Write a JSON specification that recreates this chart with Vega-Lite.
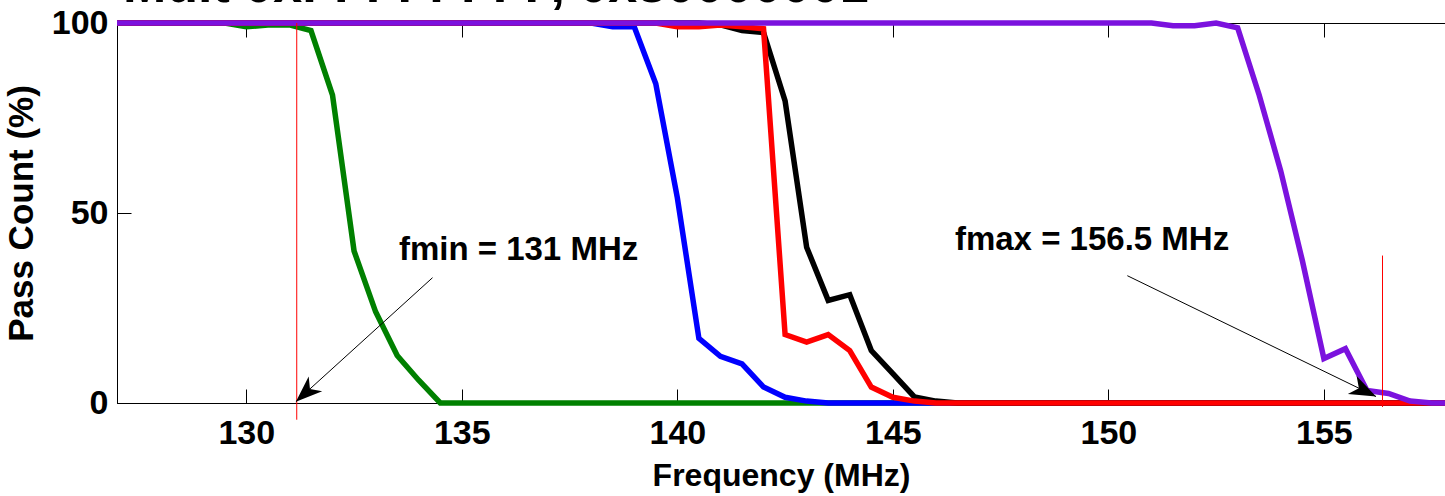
{
  "$schema": "https://vega.github.io/schema/vega-lite/v6.json",
  "autosize": {"type": "none"},
  "width": 1328,
  "height": 380,
  "padding": {"left": 117, "top": 23, "right": 0, "bottom": 93},
  "background": "white",
  "title": {
    "text": "Mult 0xFFFFFFFF, 0x80000001",
    "anchor": "start",
    "frame": "group",
    "font": "Liberation Sans",
    "fontSize": 52,
    "fontWeight": "bold",
    "color": "black",
    "baseline": "alphabetic",
    "dx": 6,
    "dy": 48,
    "offset": 0
  },
  "config": {
    "view": {"stroke": "black", "strokeWidth": 1},
    "font": "Liberation Sans",
    "axis": {
      "grid": false,
      "domainColor": "black",
      "domainWidth": 1,
      "tickColor": "black",
      "tickWidth": 1,
      "tickSize": -14,
      "labelColor": "black",
      "titleColor": "black",
      "labelFont": "Liberation Sans",
      "titleFont": "Liberation Sans",
      "labelFontWeight": "bold",
      "titleFontWeight": "bold",
      "labelFontSize": 34
    }
  },
  "datasets": {
    "curves": [
      {"series": "Series 1", "frequency": 127, "pass": 100},
      {"series": "Series 1", "frequency": 129.5, "pass": 100},
      {"series": "Series 1", "frequency": 130, "pass": 99},
      {"series": "Series 1", "frequency": 130.5, "pass": 99.5},
      {"series": "Series 1", "frequency": 131, "pass": 99.5},
      {"series": "Series 1", "frequency": 131.5, "pass": 98},
      {"series": "Series 1", "frequency": 132, "pass": 81},
      {"series": "Series 1", "frequency": 132.5, "pass": 40},
      {"series": "Series 1", "frequency": 133, "pass": 24},
      {"series": "Series 1", "frequency": 133.5, "pass": 12.5},
      {"series": "Series 1", "frequency": 134, "pass": 6},
      {"series": "Series 1", "frequency": 134.5, "pass": 0},
      {"series": "Series 1", "frequency": 158, "pass": 0},
      {"series": "Series 2", "frequency": 127, "pass": 100},
      {"series": "Series 2", "frequency": 138, "pass": 100},
      {"series": "Series 2", "frequency": 138.5, "pass": 99},
      {"series": "Series 2", "frequency": 139, "pass": 99},
      {"series": "Series 2", "frequency": 139.5, "pass": 84},
      {"series": "Series 2", "frequency": 140, "pass": 54},
      {"series": "Series 2", "frequency": 140.5, "pass": 17},
      {"series": "Series 2", "frequency": 141, "pass": 12.3},
      {"series": "Series 2", "frequency": 141.5, "pass": 10.3},
      {"series": "Series 2", "frequency": 142, "pass": 4.2},
      {"series": "Series 2", "frequency": 142.5, "pass": 1.5},
      {"series": "Series 2", "frequency": 143, "pass": 0.5},
      {"series": "Series 2", "frequency": 143.5, "pass": 0},
      {"series": "Series 2", "frequency": 158, "pass": 0},
      {"series": "Series 3", "frequency": 127, "pass": 100},
      {"series": "Series 3", "frequency": 140.5, "pass": 100},
      {"series": "Series 3", "frequency": 141, "pass": 99.5},
      {"series": "Series 3", "frequency": 141.5, "pass": 98},
      {"series": "Series 3", "frequency": 142, "pass": 97.5},
      {"series": "Series 3", "frequency": 142.5, "pass": 79.5},
      {"series": "Series 3", "frequency": 143, "pass": 41},
      {"series": "Series 3", "frequency": 143.5, "pass": 27},
      {"series": "Series 3", "frequency": 144, "pass": 28.5},
      {"series": "Series 3", "frequency": 144.5, "pass": 13.8},
      {"series": "Series 3", "frequency": 145, "pass": 7.7},
      {"series": "Series 3", "frequency": 145.5, "pass": 1.6},
      {"series": "Series 3", "frequency": 146, "pass": 0.5},
      {"series": "Series 3", "frequency": 146.5, "pass": 0},
      {"series": "Series 3", "frequency": 158, "pass": 0},
      {"series": "Series 4", "frequency": 127, "pass": 100},
      {"series": "Series 4", "frequency": 139.5, "pass": 100},
      {"series": "Series 4", "frequency": 140, "pass": 99},
      {"series": "Series 4", "frequency": 140.5, "pass": 99},
      {"series": "Series 4", "frequency": 141, "pass": 99.5},
      {"series": "Series 4", "frequency": 141.5, "pass": 99},
      {"series": "Series 4", "frequency": 142, "pass": 98.5},
      {"series": "Series 4", "frequency": 142.5, "pass": 18},
      {"series": "Series 4", "frequency": 143, "pass": 16},
      {"series": "Series 4", "frequency": 143.5, "pass": 18},
      {"series": "Series 4", "frequency": 144, "pass": 13.8},
      {"series": "Series 4", "frequency": 144.5, "pass": 4.2},
      {"series": "Series 4", "frequency": 145, "pass": 1.5},
      {"series": "Series 4", "frequency": 145.5, "pass": 0.5},
      {"series": "Series 4", "frequency": 146, "pass": 0},
      {"series": "Series 4", "frequency": 158, "pass": 0},
      {"series": "Series 5", "frequency": 127, "pass": 100},
      {"series": "Series 5", "frequency": 151, "pass": 100},
      {"series": "Series 5", "frequency": 151.5, "pass": 99.3},
      {"series": "Series 5", "frequency": 152, "pass": 99.3},
      {"series": "Series 5", "frequency": 152.5, "pass": 100},
      {"series": "Series 5", "frequency": 153, "pass": 98.7},
      {"series": "Series 5", "frequency": 153.5, "pass": 81},
      {"series": "Series 5", "frequency": 154, "pass": 61},
      {"series": "Series 5", "frequency": 154.5, "pass": 37.5},
      {"series": "Series 5", "frequency": 155, "pass": 11.7},
      {"series": "Series 5", "frequency": 155.5, "pass": 14.3},
      {"series": "Series 5", "frequency": 156, "pass": 3.3},
      {"series": "Series 5", "frequency": 156.5, "pass": 2.5},
      {"series": "Series 5", "frequency": 157, "pass": 0.5},
      {"series": "Series 5", "frequency": 157.5, "pass": 0},
      {"series": "Series 5", "frequency": 158, "pass": 0}
    ],
    "markers": [
      {"label": "fmin", "frequency": 131.17, "top": 100, "bottom": -4.4},
      {"label": "fmax", "frequency": 156.36, "top": 38.8, "bottom": -1.05}
    ],
    "arrows": [
      {"label": "fmin", "x_start": 134.32, "y_start": 32.97, "x_end": 131.15, "y_end": 0.34},
      {"label": "fmax", "x_start": 150.44, "y_start": 33.5, "x_end": 156.21, "y_end": 1.7}
    ],
    "labels": [
      {"text": "fmin = 131 MHz", "frequency": 133.54, "pass": 37.6},
      {"text": "fmax = 156.5 MHz", "frequency": 146.44, "pass": 40.3}
    ]
  },
  "resolve": {"axis": {"x": "independent"}},
  "layer": [
    {
      "data": {"name": "curves"},
      "mark": {"type": "line", "strokeWidth": 5.5},
      "encoding": {
        "x": {
          "field": "frequency", "type": "quantitative",
          "scale": {"domain": [127, 157.81], "nice": false, "zero": false},
          "axis": {"orient": "bottom", "values": [130, 135, 140, 145, 150, 155], "title": "Frequency (MHz)", "titleFontSize": 32, "labelPadding": 27, "titlePadding": 10}
        },
        "y": {
          "field": "pass", "type": "quantitative",
          "scale": {"domain": [0, 100], "nice": false},
          "axis": {"values": [0, 50, 100], "title": "Pass Count (%)", "titleFontSize": 35, "labelPadding": 23, "titlePadding": 12}
        },
        "color": {
          "field": "series", "type": "nominal",
          "scale": {"domain": ["Series 1", "Series 2", "Series 3", "Series 4", "Series 5"], "range": ["#008000", "#0000FF", "#000000", "#FF0000", "#7B12DE"]},
          "legend": null
        }
      }
    },
    {
      "data": {"name": "markers"},
      "mark": {"type": "rule", "color": "#FF0000", "strokeWidth": 1},
      "encoding": {
        "x": {"field": "frequency", "type": "quantitative", "axis": {"orient": "top", "labels": false, "domain": false, "title": null, "values": [130, 135, 140, 145, 150, 155]}},
        "y": {"field": "top", "type": "quantitative"},
        "y2": {"field": "bottom"}
      }
    },
    {
      "data": {"name": "arrows"},
      "mark": {"type": "rule", "color": "black", "strokeWidth": 1},
      "encoding": {
        "x": {"field": "x_start", "type": "quantitative", "axis": null},
        "y": {"field": "y_start", "type": "quantitative"},
        "x2": {"field": "x_end"},
        "y2": {"field": "y_end"}
      }
    },
    {
      "data": {"name": "arrows"},
      "transform": [{"filter": "datum.label === 'fmin'"}],
      "mark": {"type": "point", "shape": "M0,0L-1,-0.38L-0.72,0L-1,0.38Z", "filled": true, "color": "black", "opacity": 1, "size": 2800, "angle": 137.7, "strokeWidth": 0},
      "encoding": {
        "x": {"field": "x_end", "type": "quantitative", "axis": null},
        "y": {"field": "y_end", "type": "quantitative"}
      }
    },
    {
      "data": {"name": "arrows"},
      "transform": [{"filter": "datum.label === 'fmax'"}],
      "mark": {"type": "point", "shape": "M0,0L-1,-0.38L-0.72,0L-1,0.38Z", "filled": true, "color": "black", "opacity": 1, "size": 2800, "angle": 25.9, "strokeWidth": 0},
      "encoding": {
        "x": {"field": "x_end", "type": "quantitative", "axis": null},
        "y": {"field": "y_end", "type": "quantitative"}
      }
    },
    {
      "data": {"name": "labels"},
      "mark": {"type": "text", "align": "left", "baseline": "alphabetic", "font": "Liberation Sans", "fontSize": 33, "fontWeight": "bold", "color": "black"},
      "encoding": {
        "x": {"field": "frequency", "type": "quantitative", "axis": null},
        "y": {"field": "pass", "type": "quantitative"},
        "text": {"field": "text"}
      }
    }
  ]
}
